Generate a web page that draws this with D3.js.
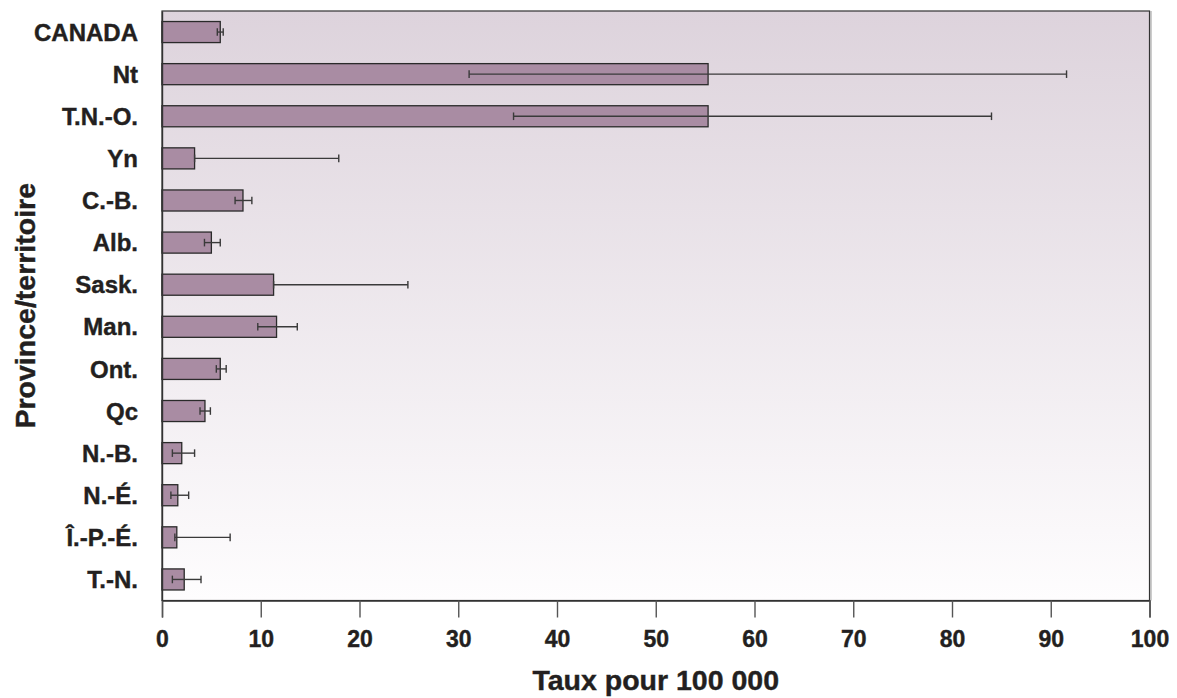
<!DOCTYPE html>
<html><head><meta charset="utf-8">
<script src="https://cdn.jsdelivr.net/npm/d3@7"></script>
<style>body{margin:0;background:#fff}svg{display:block}text{font-family:"Liberation Sans",Arial,sans-serif;font-weight:bold;fill:#231f20}</style>
</head><body><svg id="c" width="1177" height="698"></svg>
<script>
const categories = ["CANADA","Nt","T.N.-O.","Yn","C.-B.","Alb.","Sask.","Man.","Ont.","Qc","N.-B.","N.-É.","Î.-P.-É.","T.-N."];
const rates = [5.9,55.3,55.3,3.3,8.2,5.0,11.3,11.6,5.9,4.35,2.0,1.6,1.5,2.25];
const lowCI = [5.6,31.1,35.6,3.3,7.4,4.3,11.3,9.7,5.5,3.85,1.05,0.9,1.3,1.05];
const highCI = [6.2,91.6,84.0,17.9,9.1,5.9,24.9,13.7,6.5,4.9,3.3,2.7,6.9,3.95];
const xTicks = [0,10,20,30,40,50,60,70,80,90,100];

const svg = d3.select("#c");
const L=162,R=1149.5,T=11,B=600.5;
const x = d3.scaleLinear().domain([0,100]).range([L,R]);
const y = d3.scaleBand().domain(categories).range([T,B]).paddingInner(0.5).paddingOuter(0.25);

const defs = svg.append("defs");
const g = defs.append("linearGradient").attr("id","bg").attr("x1",0).attr("y1",0).attr("x2",0).attr("y2",1);
g.append("stop").attr("offset","0%").attr("stop-color","#ddd3dc");
g.append("stop").attr("offset","100%").attr("stop-color","#fefdfe");

svg.append("line").attr("x1",R+1.5).attr("x2",R+1.5).attr("y1",T).attr("y2",B).attr("stroke","#bbb").attr("stroke-width",1.5);
svg.append("rect").attr("x",L).attr("y",T).attr("width",R-L).attr("height",B-T)
  .attr("fill","url(#bg)").attr("stroke","#333").attr("stroke-width",1.2);

const data = categories.map((c,i)=>({c,v:rates[i],lo:lowCI[i],hi:highCI[i]}));
const bw = y.bandwidth();
svg.append("g").selectAll("rect").data(data).join("rect")
  .attr("x",x(0)).attr("y",d=>y(d.c)).attr("width",d=>x(d.v)-x(0)).attr("height",bw)
  .attr("fill","#a98ca3").attr("stroke","#2a2a2a").attr("stroke-width",1.3);

const eb = svg.append("g").attr("stroke","#3a3a3a").attr("stroke-width",1.4);
data.forEach(d=>{
  const cy = y(d.c)+bw/2;
  eb.append("line").attr("x1",x(d.lo)).attr("x2",x(d.hi)).attr("y1",cy).attr("y2",cy);
  eb.append("line").attr("x1",x(d.lo)).attr("x2",x(d.lo)).attr("y1",cy-3.8).attr("y2",cy+3.8);
  eb.append("line").attr("x1",x(d.hi)).attr("x2",x(d.hi)).attr("y1",cy-3.8).attr("y2",cy+3.8);
});

const xa = svg.append("g").attr("transform",`translate(0,${B})`)
  .call(d3.axisBottom(x).tickValues(xTicks).tickSize(17).tickPadding(9).tickFormat(d3.format("d")));
xa.select(".domain").attr("stroke","#333").attr("stroke-width",1.4);
xa.selectAll(".tick line").attr("stroke","#555").attr("stroke-width",1.4);
xa.selectAll(".tick text").attr("font-size",23).attr("fill","#231f20").attr("dy","0.9em")
  .attr("stroke","#231f20").attr("stroke-width",0.4);

const ya = svg.append("g").attr("transform",`translate(${L},0)`)
  .call(d3.axisLeft(y).tickSize(0).tickPadding(24));
ya.select(".domain").attr("stroke","#333").attr("stroke-width",1.4);
ya.selectAll(".tick text").attr("font-size",24).attr("fill","#231f20").attr("dy","0.36em")
  .attr("stroke","#231f20").attr("stroke-width",0.4);

svg.append("text").attr("x",(L+R)/2).attr("y",690).attr("text-anchor","middle").attr("font-size",28.5)
  .attr("stroke","#231f20").attr("stroke-width",0.4).text("Taux pour 100 000");
svg.append("text").attr("transform",`translate(35,${(T+B)/2}) rotate(-90)`).attr("text-anchor","middle").attr("font-size",28.5)
  .attr("stroke","#231f20").attr("stroke-width",0.4).text("Province/territoire");
</script></body></html>
